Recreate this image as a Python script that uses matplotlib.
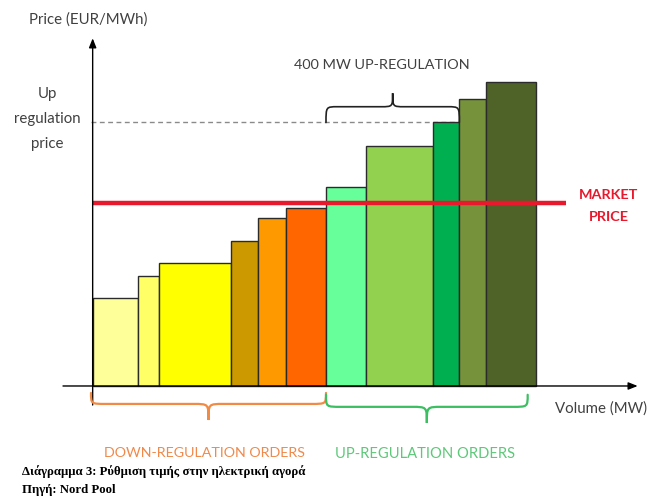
import matplotlib
matplotlib.use("Agg")
import matplotlib.pyplot as plt
import numpy as np
from matplotlib.path import Path
from matplotlib.patches import PathPatch

# merit-order list of regulating power bids
down_volumes = [135, 65, 215, 80, 85, 120]          # MW
down_prices = [24, 30, 33.5, 39.5, 46, 48.5]        # EUR/MWh
down_colors = ["#FFFF99", "#FFFF66", "#FFFF00", "#CC9900", "#FF9900", "#FF6600"]

up_volumes = [120, 200, 80, 80, 150]                # MW
up_prices = [54.5, 65.5, 72, 78.5, 83]              # EUR/MWh
up_colors = ["#66FF99", "#92D050", "#00B050", "#76933C", "#4F6228"]

market_price = 50
up_regulation_price = 72
activated_up = 400                                    # MW

FONT = ["Lato", "DejaVu Sans"]
TXT = "#404040"

fig = plt.figure(figsize=(6.48, 5.0), dpi=100)
ax = fig.add_axes([0, 0, 1, 1])
# 1 px = 3 MW horizontally, 3.66 px = 1 EUR/MWh vertically
ax.set_xlim(-278, 1666)
ax.set_ylim(-31.15, 105.46)
ax.axis("off")

volumes = down_volumes + up_volumes
prices = down_prices + up_prices
colors = down_colors + up_colors
lefts = np.concatenate([[0], np.cumsum(volumes)[:-1]])
ax.bar(lefts, prices, width=volumes, align="edge", color=colors,
       edgecolor="#2b2b2b", linewidth=1.0, zorder=3)

down_total = sum(down_volumes)
up_total = sum(up_volumes)
up_end = down_total + activated_up

# market price and up-regulation price levels
ax.plot([0, 1420], [market_price, market_price], color="#E8192C", lw=3.2,
        solid_capstyle="butt", zorder=5)
ax.plot([-5, up_end], [up_regulation_price, up_regulation_price],
        color="#8a8a8a", lw=1.0, dashes=(3.5, 2.5), zorder=2)

# axes with arrow heads
arrow = dict(arrowstyle="-|>,head_length=0.55,head_width=0.22",
             color="black", lw=1.0, shrinkA=0, shrinkB=0)
ax.annotate("", xy=(0, 95), xytext=(0, -5.2), arrowprops=arrow, zorder=6)
ax.annotate("", xy=(1635, 0), xytext=(-89, 0), arrowprops=arrow, zorder=6)


def brace(x0, x1, y_end, y_mid, y_tip, color, lw, r=45):
    xm = (x0 + x1) / 2
    verts = [
        (x0, y_end), (x0, y_mid), (x0, y_mid), (x0 + r, y_mid),
        (xm - r, y_mid), (xm, y_mid), (xm, y_mid), (xm, y_tip),
        (xm, y_mid), (xm, y_mid), (xm + r, y_mid),
        (x1 - r, y_mid), (x1, y_mid), (x1, y_mid), (x1, y_end),
    ]
    codes = [Path.MOVETO, Path.CURVE4, Path.CURVE4, Path.CURVE4,
             Path.LINETO, Path.CURVE4, Path.CURVE4, Path.CURVE4,
             Path.CURVE4, Path.CURVE4, Path.CURVE4,
             Path.LINETO, Path.CURVE4, Path.CURVE4, Path.CURVE4]
    ax.add_patch(PathPatch(Path(verts, codes), fill=False, edgecolor=color,
                           lw=lw, capstyle="round", zorder=6))


brace(-5, down_total, -1.9, -4.9, -9.3, "#F08A45", 1.6)
brace(down_total, down_total + up_total - 25, -2.4, -5.7, -10.1, "#3CBF62", 1.6)
brace(down_total, up_end, up_regulation_price, 76.3, 80.0, "#222222", 1.2, r=35)

# labels
ax.text(-12, 100.2, "Price (EUR/MWh)", fontsize=10.8, color=TXT, family=FONT,
        ha="center", va="center")
ax.text(-137, 73.0, "Up\nregulation\nprice", fontsize=10.8, color=TXT,
        family=FONT, ha="center", va="center", linespacing=2.0)
ax.text(up_end - 231, 87.8, f"{activated_up} MW UP-REGULATION", fontsize=10.4,
        color=TXT, family=FONT, ha="center", va="center")
ax.text(1548, 49.2, "MARKET\nPRICE", fontsize=10.4, color="#E8192C",
        family=FONT, weight="bold", ha="center", va="center", linespacing=2.05)
ax.text(1387, -6.1, "Volume (MW)", fontsize=10.8, color=TXT, family=FONT,
        ha="left", va="center")
ax.text(337, -18.3, "DOWN-REGULATION ORDERS", fontsize=10.3, color="#F0894A",
        family=FONT, ha="center", va="center")
ax.text(997, -18.7, "UP-REGULATION ORDERS", fontsize=10.6, color="#5CC878",
        family=FONT, ha="center", va="center")

# figure caption
fig.text(22 / 648, 1 - 472 / 500, "Διάγραμμα 3: Ρύθμιση τιμής στην ηλεκτρική αγορά",
         fontsize=9.2, family=["Liberation Serif", "DejaVu Serif"], weight="bold",
         ha="left", va="center")
fig.text(22 / 648, 1 - 490 / 500, "Πηγή: Nord Pool",
         fontsize=9.2, family=["Liberation Serif", "DejaVu Serif"], weight="bold",
         ha="left", va="center")

fig.savefig("out.png", dpi=100)
